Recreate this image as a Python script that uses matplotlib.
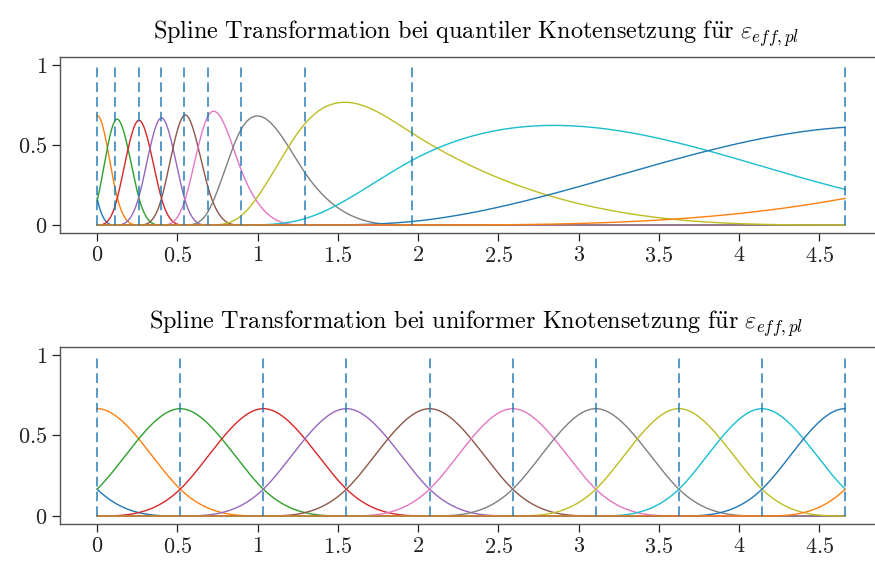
import numpy as np
import matplotlib
matplotlib.use("Agg")
import matplotlib.pyplot as plt
from matplotlib.ticker import FuncFormatter

# ---- data ----
quantile_knots = [0.0, 0.113, 0.260, 0.400, 0.544, 0.688, 0.894, 1.296, 1.959, 4.66]
uniform_knots = [0.0, 0.518, 1.036, 1.553, 2.071, 2.589, 3.107, 3.624, 4.142, 4.66]
x_ticks = [0, 0.5, 1, 1.5, 2, 2.5, 3, 3.5, 4, 4.5]
y_ticks = [0, 0.5, 1]
titles = [
    r"$\mathrm{Spline\ Transformation\ bei\ quantiler\ Knotensetzung\ f\ddot{u}r}\ \varepsilon_{eff,pl}$",
    r"$\mathrm{Spline\ Transformation\ bei\ uniformer\ Knotensetzung\ f\ddot{u}r}\ \varepsilon_{eff,pl}$",
]
degree = 3

plt.rcParams["mathtext.fontset"] = "cm"
plt.rcParams["font.family"] = ["cmr10", "DejaVu Serif"]


def extended_knots(k, p):
    k = np.asarray(k, float)
    dmin = k[1] - k[0]
    dmax = k[-1] - k[-2]
    left = k[0] - dmin * np.arange(p, 0, -1)
    right = k[-1] + dmax * np.arange(1, p + 1)
    return np.concatenate([left, k, right])


def bspline_basis(t, p, x):
    n = len(t) - 1
    B = np.zeros((n, len(x)))
    for i in range(n):
        B[i] = (x >= t[i]) & (x < t[i + 1])
    last = np.searchsorted(t, x[-1], side="left") - 1
    B[:, -1] = 0
    B[last, -1] = 1
    for d in range(1, p + 1):
        Bn = np.zeros((n - d, len(x)))
        for i in range(n - d):
            a = t[i + d] - t[i]
            b = t[i + d + 1] - t[i + 1]
            term = 0
            if a > 0:
                term = term + (x - t[i]) / a * B[i]
            if b > 0:
                term = term + (t[i + d + 1] - x) / b * B[i + 1]
            Bn[i] = term
        B = Bn
    return B


fig = plt.figure(figsize=(8.75, 5.62), dpi=100)
positions = [[0.0686, 0.5854, 0.9505, 0.3132], [0.0686, 0.0676, 0.9505, 0.3150]]
fmt = FuncFormatter(lambda v, pos: f"${v:g}$")

for knots, title, pos in zip([quantile_knots, uniform_knots], titles, positions):
    ax = fig.add_axes(pos)
    t = extended_knots(knots, degree)
    x = np.linspace(knots[0], knots[-1], 1200)
    B = bspline_basis(t, degree, x)
    for row in B:
        ax.plot(x, row, lw=1.0)
    ax.vlines(knots, 0, 1, colors="tab:blue", linestyles=(0, (5, 2.6)), lw=1.4, alpha=0.75)
    ax.set_xlim(-0.231, 4.95)
    ax.set_ylim(-0.05, 1.05)
    ax.set_xticks(x_ticks)
    ax.set_yticks(y_ticks)
    ax.xaxis.set_major_formatter(fmt)
    ax.yaxis.set_major_formatter(fmt)
    ax.tick_params(direction="out", length=5.5, width=0.9, labelsize=16, colors="#222222")
    for s in ax.spines.values():
        s.set_color("#555555")
        s.set_linewidth(1.0)
    ax.set_title(title, fontsize=17.5, pad=13)

fig.savefig("out.png", dpi=100)
